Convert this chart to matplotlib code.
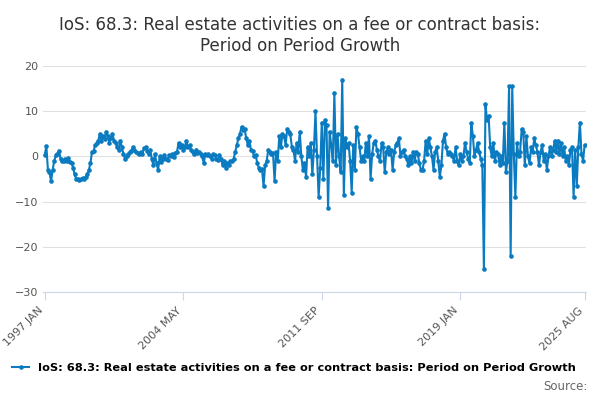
import matplotlib.pyplot as plt
import numpy as np

values = [
    0.3, 2.3, -3, -3.5, -5.5, -3, -1, 0.2, 0.5, 1.3, -0.5, -1,
    -1, -0.5, -1, -0.3, -1.2, -1.5, -2.5, -4, -5, -5, -5.2, -5,
    -4.8, -5, -4.5, -4, -3, -1.5, 1, 1.2, 2.5, 3, 3.5, 5,
    3.5, 4.5, 3.8, 5.5, 4.5, 3, 4, 5, 3.5, 3, 2, 1.5,
    3.5, 2, 0.5, -0.5, 0, 0.5, 1, 1.3, 2, 1.5, 1, 0.7,
    0.5, 1, 0.5, 1.8, 2, 1.2, 0.5, 1.5, -0.5, -2, 0.5, -1.5,
    -3, 0, -1.2, -0.5, 0.2, -0.5, -0.8, 0.2, 0, 0.5, -0.2, 0.8,
    1, 3, 2, 2.5, 1.5, 2, 3.5, 2, 2.5, 1.5, 1, 0.5,
    1.5, 0.8, 1, 0.5, 0, -1.5, 0.5, 0.3, 0.5, 0, -0.5, 0.5,
    0.2, -0.5, -0.8, 0.2, -0.5, -2, -1, -2.5, -1.5, -1.8, -1, -1,
    -0.5, 1, 2.5, 4, 5, 6.5, 5.8, 6, 4, 2.5, 3.5, 1.5,
    1.2, 0, 0.3, -1.5, -2.5, -3, -2.8, -6.5, -2, -1, 1.5, 1,
    0.5, 0.8, -5.5, 1, -1, 4.5, 2, 5, 4.5, 2.5, 6, 5.5,
    5, 2, 1.5, -1, 3, 1, 5.5, 0, -3, -1.5, -4.5, 2,
    0, 3, -4, 1.5, 10, 0, -9, -2.5, 7.5, -5, 8, 7,
    -11.5, 5.5, 2.5, -1, 14, -2, 5, 0, -3.5, 17, -8.5, 4,
    2, 3, -1, -8, 2.5, -3, 6.5, 5, 2, -1, 0, -1,
    3, 0, 4.5, -5, 0.5, 3, 3.5, 1.5, 0, -1, 3, 2,
    -3.5, 1, 2, 0.5, 1.5, -3, 1, 2.5, 3, 4, 0, 1,
    1.5, 0, -0.5, -2, 0, -1.5, 1, -1, 1, 0.5, -1.5, -3,
    -3, -1, 3.5, 0.5, 4, 2, 0, -3, 1, 2, -1, -4.5,
    -2, 3.5, 5, 2, 0.5, 1, 0.5, 0, -1, 2, -1, -2,
    0.5, -1, 0, 3, 1, -0.5, -1.5, 7.3, 4.5, 0, 1.5, 3,
    1, -0.5, -2, -25, 11.5, 8, 9, 2, 0, 3, -1, 1,
    0.5, -2, 0, -1.5, 7.5, -3.5, -1, 15.5, -22, 15.5, 0.5, -9,
    3, 0, 1, 6, 5.5, -2, 4.5, 0, -1.5, 2, 1, 4,
    2.5, 1, -2, 1, 2.5, -1, 0.5, -3, 0, 2, 0, 1.5,
    3.5, 1, 3.5, 0.5, 3, 0, 2, -1, 0, -2, 1.5, 2,
    -9, 1.5, -6.5, 2, 7.5, 0.5, -1, 2.5,
]
tick_idx = [0, 88, 176, 264, 343]
tick_labels = ["1997 JAN", "2004 MAY", "2011 SEP", "2019 JAN", "2025 AUG"]
label = "IoS: 68.3: Real estate activities on a fee or contract basis: Period on Period Growth"

col = "#0a7bc0"
fig = plt.figure(figsize=(6, 4), dpi=100)
ax = fig.add_axes([0.072, 0.27, 0.905, 0.565])
x = np.arange(len(values))
ax.plot(x, values, color=col, lw=1.5, marker="o", ms=2.3)
ax.set_ylim(-30, 20)
ax.set_yticks([-30, -20, -10, 0, 10, 20])
ax.set_xlim(-1, 344)
ax.set_xticks(tick_idx)
ax.set_xticklabels(tick_labels, rotation=45, ha="right", fontsize=8, color="#555555")
ax.tick_params(axis="y", length=0, labelsize=8, labelcolor="#555555")
ax.tick_params(axis="x", length=6, color="#ccd6eb")
ax.grid(axis="y", color="#e0e0e0", lw=0.8)
for s in ["top", "right", "left"]:
    ax.spines[s].set_visible(False)
ax.spines["bottom"].set_color("#ccd6eb")

fig.text(0.5, 0.96, "IoS: 68.3: Real estate activities on a fee or contract basis:\nPeriod on Period Growth",
         ha="center", va="top", fontsize=12, color="#333333", linespacing=1.2)
fig.legend([plt.Line2D([], [], color=col, lw=1.5, marker="o", ms=2.3)], [label],
           loc="center", bbox_to_anchor=(0.49, 0.08), frameon=False,
           handlelength=1.5, prop={"weight": "bold", "size": 8.2})
fig.text(0.98, 0.025, "Source:", ha="right", fontsize=8.5, color="#666666")
fig.savefig("out.png")
